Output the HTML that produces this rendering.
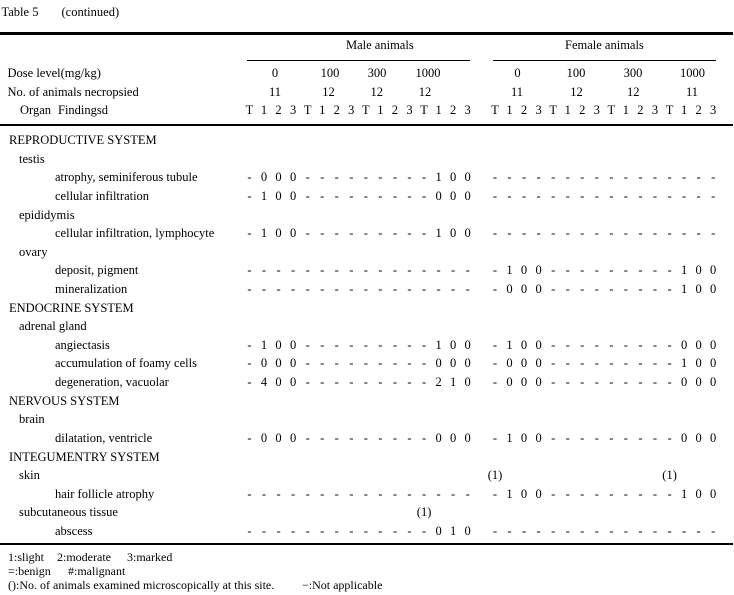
<!DOCTYPE html>
<html><head><meta charset="utf-8"><style>
body{margin:0;background:#fff}
#c{position:relative;width:734px;height:595px;overflow:hidden;background:#fff;font-family:"Liberation Serif",serif;font-size:12.5px;line-height:14px;color:#000}
.t{position:absolute;white-space:nowrap}
.n{position:absolute;white-space:nowrap;width:40px;text-align:center}
.g{position:absolute;white-space:nowrap;display:flex}
.g i{font-style:normal;width:14.55px;text-align:center;flex:none}
.m{left:242.2px}
.f{left:487.7px}
.r{position:absolute;background:#000;left:0;width:733px}
.u{position:absolute;background:#000;height:1.5px;top:59.5px}
.ft{font-size:12px}
</style></head><body><div id="c">
<div class="t" style="left:1.5px;top:4.7px">Table 5</div>
<div class="t" style="left:61.5px;top:4.7px">(continued)</div>
<div class="r" style="top:32px;height:2.5px"></div>
<div class="t" style="left:346px;top:38px">Male animals</div>
<div class="t" style="left:565px;top:38px">Female animals</div>
<div class="u" style="left:247px;width:223px"></div>
<div class="u" style="left:493px;width:223px"></div>
<div class="t" style="left:7.5px;top:66px">Dose level(mg/kg)</div>
<div class="n" style="left:255px;top:66px">0</div>
<div class="n" style="left:310px;top:66px">100</div>
<div class="n" style="left:357px;top:66px">300</div>
<div class="n" style="left:408px;top:66px">1000</div>
<div class="n" style="left:497.5px;top:66px">0</div>
<div class="n" style="left:556px;top:66px">100</div>
<div class="n" style="left:613px;top:66px">300</div>
<div class="n" style="left:672.5px;top:66px">1000</div>
<div class="t" style="left:7.5px;top:84.7px">No. of animals necropsied</div>
<div class="n" style="left:255px;top:84.7px">11</div>
<div class="n" style="left:308.5px;top:84.7px">12</div>
<div class="n" style="left:356.7px;top:84.7px">12</div>
<div class="n" style="left:405px;top:84.7px">12</div>
<div class="n" style="left:497px;top:84.7px">11</div>
<div class="n" style="left:556.5px;top:84.7px">12</div>
<div class="n" style="left:613.3px;top:84.7px">12</div>
<div class="n" style="left:672px;top:84.7px">11</div>
<div class="t" style="left:20px;top:103px">Organ</div>
<div class="t" style="left:58px;top:103px">Findingsd</div>
<div class="g m" style="top:103px"><i>T</i><i>1</i><i>2</i><i>3</i><i>T</i><i>1</i><i>2</i><i>3</i><i>T</i><i>1</i><i>2</i><i>3</i><i>T</i><i>1</i><i>2</i><i>3</i></div>
<div class="g f" style="top:103px"><i>T</i><i>1</i><i>2</i><i>3</i><i>T</i><i>1</i><i>2</i><i>3</i><i>T</i><i>1</i><i>2</i><i>3</i><i>T</i><i>1</i><i>2</i><i>3</i></div>
<div class="r" style="top:123.5px;height:2.5px"></div>

<div class="t" style="left:9px;top:133px">REPRODUCTIVE SYSTEM</div>
<div class="t" style="left:19px;top:151.6px">testis</div>
<div class="t" style="left:55px;top:170.2px">atrophy, seminiferous tubule</div>
<div class="g m" style="top:170.2px"><i>-</i><i>0</i><i>0</i><i>0</i><i>-</i><i>-</i><i>-</i><i>-</i><i>-</i><i>-</i><i>-</i><i>-</i><i>-</i><i>1</i><i>0</i><i>0</i></div>
<div class="g f" style="top:170.2px"><i>-</i><i>-</i><i>-</i><i>-</i><i>-</i><i>-</i><i>-</i><i>-</i><i>-</i><i>-</i><i>-</i><i>-</i><i>-</i><i>-</i><i>-</i><i>-</i></div>
<div class="t" style="left:55px;top:188.9px">cellular infiltration</div>
<div class="g m" style="top:188.9px"><i>-</i><i>1</i><i>0</i><i>0</i><i>-</i><i>-</i><i>-</i><i>-</i><i>-</i><i>-</i><i>-</i><i>-</i><i>-</i><i>0</i><i>0</i><i>0</i></div>
<div class="g f" style="top:188.9px"><i>-</i><i>-</i><i>-</i><i>-</i><i>-</i><i>-</i><i>-</i><i>-</i><i>-</i><i>-</i><i>-</i><i>-</i><i>-</i><i>-</i><i>-</i><i>-</i></div>
<div class="t" style="left:19px;top:207.5px">epididymis</div>
<div class="t" style="left:55px;top:226.1px">cellular infiltration, lymphocyte</div>
<div class="g m" style="top:226.1px"><i>-</i><i>1</i><i>0</i><i>0</i><i>-</i><i>-</i><i>-</i><i>-</i><i>-</i><i>-</i><i>-</i><i>-</i><i>-</i><i>1</i><i>0</i><i>0</i></div>
<div class="g f" style="top:226.1px"><i>-</i><i>-</i><i>-</i><i>-</i><i>-</i><i>-</i><i>-</i><i>-</i><i>-</i><i>-</i><i>-</i><i>-</i><i>-</i><i>-</i><i>-</i><i>-</i></div>
<div class="t" style="left:19px;top:244.7px">ovary</div>
<div class="t" style="left:55px;top:263.3px">deposit, pigment</div>
<div class="g m" style="top:263.3px"><i>-</i><i>-</i><i>-</i><i>-</i><i>-</i><i>-</i><i>-</i><i>-</i><i>-</i><i>-</i><i>-</i><i>-</i><i>-</i><i>-</i><i>-</i><i>-</i></div>
<div class="g f" style="top:263.3px"><i>-</i><i>1</i><i>0</i><i>0</i><i>-</i><i>-</i><i>-</i><i>-</i><i>-</i><i>-</i><i>-</i><i>-</i><i>-</i><i>1</i><i>0</i><i>0</i></div>
<div class="t" style="left:55px;top:282px">mineralization</div>
<div class="g m" style="top:282px"><i>-</i><i>-</i><i>-</i><i>-</i><i>-</i><i>-</i><i>-</i><i>-</i><i>-</i><i>-</i><i>-</i><i>-</i><i>-</i><i>-</i><i>-</i><i>-</i></div>
<div class="g f" style="top:282px"><i>-</i><i>0</i><i>0</i><i>0</i><i>-</i><i>-</i><i>-</i><i>-</i><i>-</i><i>-</i><i>-</i><i>-</i><i>-</i><i>1</i><i>0</i><i>0</i></div>

<div class="t" style="left:9px;top:300.6px">ENDOCRINE SYSTEM</div>
<div class="t" style="left:19px;top:319.2px">adrenal gland</div>
<div class="t" style="left:55px;top:337.8px">angiectasis</div>
<div class="g m" style="top:337.8px"><i>-</i><i>1</i><i>0</i><i>0</i><i>-</i><i>-</i><i>-</i><i>-</i><i>-</i><i>-</i><i>-</i><i>-</i><i>-</i><i>1</i><i>0</i><i>0</i></div>
<div class="g f" style="top:337.8px"><i>-</i><i>1</i><i>0</i><i>0</i><i>-</i><i>-</i><i>-</i><i>-</i><i>-</i><i>-</i><i>-</i><i>-</i><i>-</i><i>0</i><i>0</i><i>0</i></div>
<div class="t" style="left:55px;top:356.4px">accumulation of foamy cells</div>
<div class="g m" style="top:356.4px"><i>-</i><i>0</i><i>0</i><i>0</i><i>-</i><i>-</i><i>-</i><i>-</i><i>-</i><i>-</i><i>-</i><i>-</i><i>-</i><i>0</i><i>0</i><i>0</i></div>
<div class="g f" style="top:356.4px"><i>-</i><i>0</i><i>0</i><i>0</i><i>-</i><i>-</i><i>-</i><i>-</i><i>-</i><i>-</i><i>-</i><i>-</i><i>-</i><i>1</i><i>0</i><i>0</i></div>
<div class="t" style="left:55px;top:375.1px">degeneration, vacuolar</div>
<div class="g m" style="top:375.1px"><i>-</i><i>4</i><i>0</i><i>0</i><i>-</i><i>-</i><i>-</i><i>-</i><i>-</i><i>-</i><i>-</i><i>-</i><i>-</i><i>2</i><i>1</i><i>0</i></div>
<div class="g f" style="top:375.1px"><i>-</i><i>0</i><i>0</i><i>0</i><i>-</i><i>-</i><i>-</i><i>-</i><i>-</i><i>-</i><i>-</i><i>-</i><i>-</i><i>0</i><i>0</i><i>0</i></div>

<div class="t" style="left:9px;top:393.7px">NERVOUS SYSTEM</div>
<div class="t" style="left:19px;top:412.3px">brain</div>
<div class="t" style="left:55px;top:430.9px">dilatation, ventricle</div>
<div class="g m" style="top:430.9px"><i>-</i><i>0</i><i>0</i><i>0</i><i>-</i><i>-</i><i>-</i><i>-</i><i>-</i><i>-</i><i>-</i><i>-</i><i>-</i><i>0</i><i>0</i><i>0</i></div>
<div class="g f" style="top:430.9px"><i>-</i><i>1</i><i>0</i><i>0</i><i>-</i><i>-</i><i>-</i><i>-</i><i>-</i><i>-</i><i>-</i><i>-</i><i>-</i><i>0</i><i>0</i><i>0</i></div>

<div class="t" style="left:9px;top:449.5px">INTEGUMENTRY SYSTEM</div>
<div class="t" style="left:19px;top:468.2px">skin</div>
<div class="n" style="left:475px;top:468.2px">(1)</div>
<div class="n" style="left:649.6px;top:468.2px">(1)</div>
<div class="t" style="left:55px;top:486.8px">hair follicle atrophy</div>
<div class="g m" style="top:486.8px"><i>-</i><i>-</i><i>-</i><i>-</i><i>-</i><i>-</i><i>-</i><i>-</i><i>-</i><i>-</i><i>-</i><i>-</i><i>-</i><i>-</i><i>-</i><i>-</i></div>
<div class="g f" style="top:486.8px"><i>-</i><i>1</i><i>0</i><i>0</i><i>-</i><i>-</i><i>-</i><i>-</i><i>-</i><i>-</i><i>-</i><i>-</i><i>-</i><i>1</i><i>0</i><i>0</i></div>
<div class="t" style="left:19px;top:505.4px">subcutaneous tissue</div>
<div class="n" style="left:404.1px;top:505.4px">(1)</div>
<div class="t" style="left:55px;top:524px">abscess</div>
<div class="g m" style="top:524px"><i>-</i><i>-</i><i>-</i><i>-</i><i>-</i><i>-</i><i>-</i><i>-</i><i>-</i><i>-</i><i>-</i><i>-</i><i>-</i><i>0</i><i>1</i><i>0</i></div>
<div class="g f" style="top:524px"><i>-</i><i>-</i><i>-</i><i>-</i><i>-</i><i>-</i><i>-</i><i>-</i><i>-</i><i>-</i><i>-</i><i>-</i><i>-</i><i>-</i><i>-</i><i>-</i></div>

<div class="r" style="top:542.7px;height:2.5px"></div>
<div class="t ft" style="left:8px;top:550px">1:slight</div>
<div class="t ft" style="left:57px;top:550px">2:moderate</div>
<div class="t ft" style="left:127px;top:550px">3:marked</div>
<div class="t ft" style="left:8px;top:564px">=:benign</div>
<div class="t ft" style="left:68px;top:564px">#:malignant</div>
<div class="t ft" style="left:8px;top:578px">():No. of animals examined microscopically at this site.</div>
<div class="t ft" style="left:302px;top:578px">−:Not applicable</div>
</div></body></html>
